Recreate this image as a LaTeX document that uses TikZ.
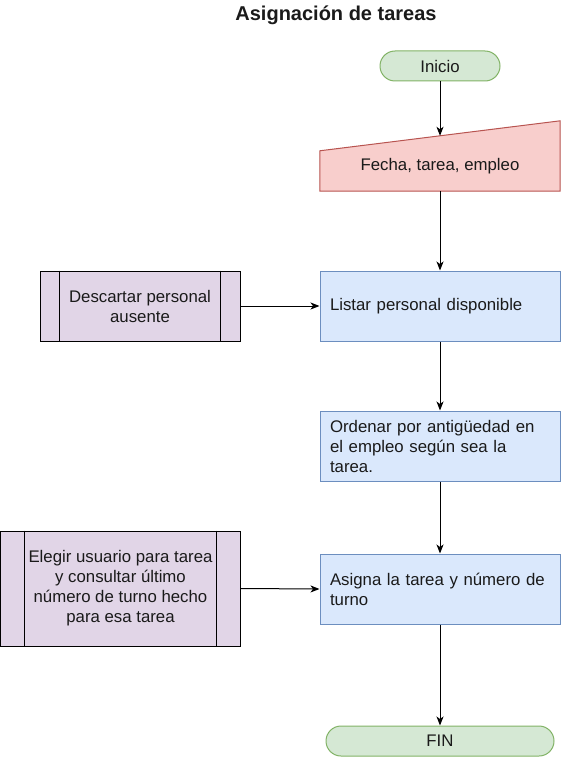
\documentclass[tikz,border=0pt]{standalone}
\usepackage{fontspec}
\setmainfont{Liberation Sans}
\usetikzlibrary{arrows.meta,calc}
\definecolor{gfill}{HTML}{D5E8D4}
\definecolor{gline}{HTML}{82B366}
\definecolor{rfill}{HTML}{F8CECC}
\definecolor{rline}{HTML}{B85450}
\definecolor{bfill}{HTML}{DAE8FC}
\definecolor{bline}{HTML}{6C8EBF}
\definecolor{pfill}{HTML}{E1D5E7}
\definecolor{txt}{HTML}{1A1A1A}
\begin{document}
\begin{tikzpicture}[x=1pt,y=-1pt, font=\fontsize{16.8}{20}\selectfont, text=txt,
 term/.style={rectangle, rounded corners=15pt, draw=gline, fill=gfill, line width=1pt, minimum height=30pt, inner sep=0pt},
 proc/.style={rectangle, draw=bline, fill=bfill, line width=1pt, minimum height=70pt, text width=220pt, inner xsep=10pt, inner ysep=0pt, align=left},
 sub/.style={rectangle, draw=black, fill=pfill, line width=1pt, inner sep=0pt, align=center},
 conn/.style={-{Stealth[length=9pt,width=7pt,inset=2.5pt]}, line width=1pt, black},
]
\useasboundingbox (0,0) rectangle (562,757);
\node[font=\fontsize{20}{24}\selectfont\bfseries, anchor=base] (title) at (336,21) {Asignación de tareas};
\node[term, minimum width=120pt] (inicio) at (440,66) {Inicio};
\node[minimum width=240pt, minimum height=70pt, inner sep=0pt] (fecha) at (440,156) {};
\draw[rline, fill=rfill, line width=1pt] (fecha.south west) -- (fecha.south east) -- (fecha.north east) -- ([yshift=-30pt]fecha.north west) -- cycle;
\coordinate (fechatop) at ($(fecha.north)+(0,15)$);
\node (fechatxt) at (440,166) {Fecha, tarea, empleo};
\node[proc] (listar) at (440,306) {Listar personal disponible};
\node[sub, minimum width=200pt, minimum height=70pt] (desc) at (140,306) {Descartar personal\\ausente};
\draw[line width=1pt] ([xshift=20pt]desc.north west) -- ([xshift=20pt]desc.south west);
\draw[line width=1pt] ([xshift=-20pt]desc.north east) -- ([xshift=-20pt]desc.south east);
\node[proc] (ordenar) at (440,446) {Ordenar por antigüedad en\\el empleo según sea la\\tarea.};
\node[proc] (asigna) at (440,589) {Asigna la tarea y número de\\turno};
\node[sub, minimum width=239.5pt, minimum height=115pt] (elegir) at (120.5,588.5) {Elegir usuario para tarea\\y consultar último\\número de turno hecho\\para esa tarea};
\draw[line width=1pt] ([xshift=24pt]elegir.north west) -- ([xshift=24pt]elegir.south west);
\draw[line width=1pt] ([xshift=-24pt]elegir.north east) -- ([xshift=-24pt]elegir.south east);
\node[term, minimum width=228pt] (fin) at (440,741) {FIN};
\draw[conn] (inicio.south) -- (fechatop);
\draw[conn] (fecha.south) -- (listar.north);
\draw[conn] (desc.east) -- (listar.west);
\draw[conn] (listar.south) -- (ordenar.north);
\draw[conn] (ordenar.south) -- (asigna.north);
\draw[conn] (elegir.east) -- (asigna.west);
\draw[conn] (asigna.south) -- (fin.north);
\end{tikzpicture}
\end{document}
